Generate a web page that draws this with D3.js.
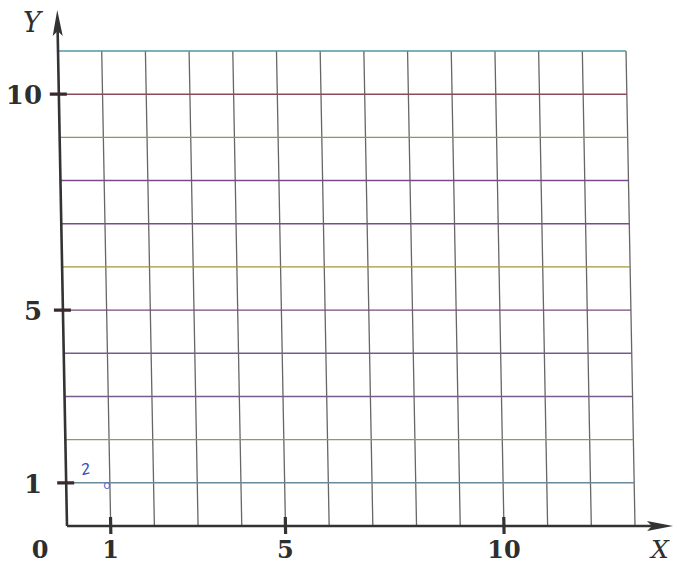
<!DOCTYPE html>
<html>
<head>
<meta charset="utf-8">
<script src="https://cdn.jsdelivr.net/npm/d3@7"></script>
<style>
  html, body { margin: 0; padding: 0; background: #fff; }
  svg { display: block; }
  .lbl { font-family: "DejaVu Serif", serif; font-weight: bold; fill: #2e2e2e; }
  .axname { font-family: "DejaVu Serif", serif; font-style: italic; fill: #2e2e2e; }
</style>
</head>
<body>
<div id="chart"></div>
<script>
  var gridX = [1, 2, 3, 4, 5, 6, 7, 8, 9, 10, 11, 12, 13];
  var gridY = [1, 2, 3, 4, 5, 6, 7, 8, 9, 10, 11];
  // colour fringe of each horizontal line in the scan, bottom to top
  var gridYColors = ['#6a8a9a', '#8a9a6a', '#7a5a8a', '#7a5a8a', '#7a4a7a', '#a0983a',
                     '#7a4a8a', '#7a4a8a', '#8a9a4a', '#8a4a5a', '#4a9aa0'];
  var xTicks = [1, 5, 10];
  var yTicks = [1, 5, 10];

  var width = 679;
  var height = 566;
  var x0 = 67, y0 = 526;

  var x = d3.scaleLinear().domain([0, 13]).range([x0, 635]);
  var y = d3.scaleLinear().domain([0, 11]).range([y0, 51]);

  var svg = d3.select('#chart').append('svg')
      .attr('width', width)
      .attr('height', height);

  // the printed grid leans slightly to the left towards the top
  var skew = Math.atan(9 / 476) * 180 / Math.PI;
  var g = svg.append('g')
      .attr('transform', 'translate(0,' + y0 + ') skewX(' + skew + ') translate(0,' + (-y0) + ')');

  g.selectAll('line.vgrid').data(gridX).enter().append('line')
      .attr('class', 'vgrid')
      .attr('x1', function (d) { return x(d); })
      .attr('x2', function (d) { return x(d); })
      .attr('y1', y(0))
      .attr('y2', y(11))
      .attr('stroke', '#666')
      .attr('stroke-width', 1.3);

  g.selectAll('line.hgrid').data(gridY).enter().append('line')
      .attr('class', 'hgrid')
      .attr('x1', x(0))
      .attr('x2', x(13))
      .attr('y1', function (d) { return y(d); })
      .attr('y2', function (d) { return y(d); })
      .attr('stroke', function (d, i) { return gridYColors[i]; })
      .attr('stroke-width', 1.4);

  // axes
  g.append('line')
      .attr('x1', x(0)).attr('y1', y(0))
      .attr('x2', x(0)).attr('y2', 30)
      .attr('stroke', '#333').attr('stroke-width', 2.6);
  g.append('path')
      .attr('d', 'M' + x(0) + ',10 L' + (x(0) - 5) + ',36 L' + x(0) + ',31 L' + (x(0) + 5) + ',36 Z')
      .attr('fill', '#333');

  g.append('line')
      .attr('x1', x(0)).attr('y1', y(0))
      .attr('x2', 655).attr('y2', y(0))
      .attr('stroke', '#333').attr('stroke-width', 2.6);
  g.append('path')
      .attr('d', 'M673,' + y0 + ' L647,' + (y0 - 5) + ' L652,' + y0 + ' L647,' + (y0 + 5) + ' Z')
      .attr('fill', '#333');

  g.selectAll('line.ytick').data(yTicks).enter().append('line')
      .attr('class', 'ytick')
      .attr('x1', x(0) - 9).attr('x2', x(0) + 8)
      .attr('y1', function (d) { return y(d); })
      .attr('y2', function (d) { return y(d); })
      .attr('stroke', '#3a2a30').attr('stroke-width', 3.2);

  g.selectAll('line.xtick').data(xTicks).enter().append('line')
      .attr('class', 'xtick')
      .attr('x1', function (d) { return x(d); })
      .attr('x2', function (d) { return x(d); })
      .attr('y1', y0 - 9).attr('y2', y0 + 8)
      .attr('stroke', '#333').attr('stroke-width', 3.2);

  // labels
  svg.selectAll('text.ylbl').data(yTicks).enter().append('text')
      .attr('class', 'lbl ylbl')
      .attr('x', 42)
      .attr('y', function (d) { return y(d) + 10; })
      .attr('text-anchor', 'end')
      .attr('font-size', 26)
      .text(function (d) { return d; });

  svg.selectAll('text.xlbl').data(xTicks).enter().append('text')
      .attr('class', 'lbl xlbl')
      .attr('x', function (d) { return x(d); })
      .attr('y', 558)
      .attr('text-anchor', 'middle')
      .attr('font-size', 24)
      .text(function (d) { return d; });

  svg.append('text').attr('class', 'lbl')
      .attr('x', 40).attr('y', 558)
      .attr('text-anchor', 'middle')
      .attr('font-size', 24)
      .text('0');

  svg.append('text').attr('class', 'axname')
      .attr('x', 32).attr('y', 32)
      .attr('text-anchor', 'middle')
      .attr('font-size', 27)
      .text('Y');

  svg.append('text').attr('class', 'axname')
      .attr('x', 660).attr('y', 558)
      .attr('text-anchor', 'middle')
      .attr('font-size', 25)
      .text('X');

  // pencil mark in the corner cell
  svg.append('text')
      .attr('x', 87).attr('y', 474)
      .attr('text-anchor', 'middle')
      .attr('font-family', 'DejaVu Sans, sans-serif')
      .attr('font-style', 'italic')
      .attr('font-size', 15)
      .attr('fill', '#3a4fc0')
      .attr('transform', 'rotate(-15,87,474)')
      .text('2');
  svg.append('text')
      .attr('x', 107).attr('y', 489)
      .attr('text-anchor', 'middle')
      .attr('font-family', 'DejaVu Sans, sans-serif')
      .attr('font-size', 12)
      .attr('fill', '#5a6fd0')
      .text('o');
</script>
</body>
</html>
